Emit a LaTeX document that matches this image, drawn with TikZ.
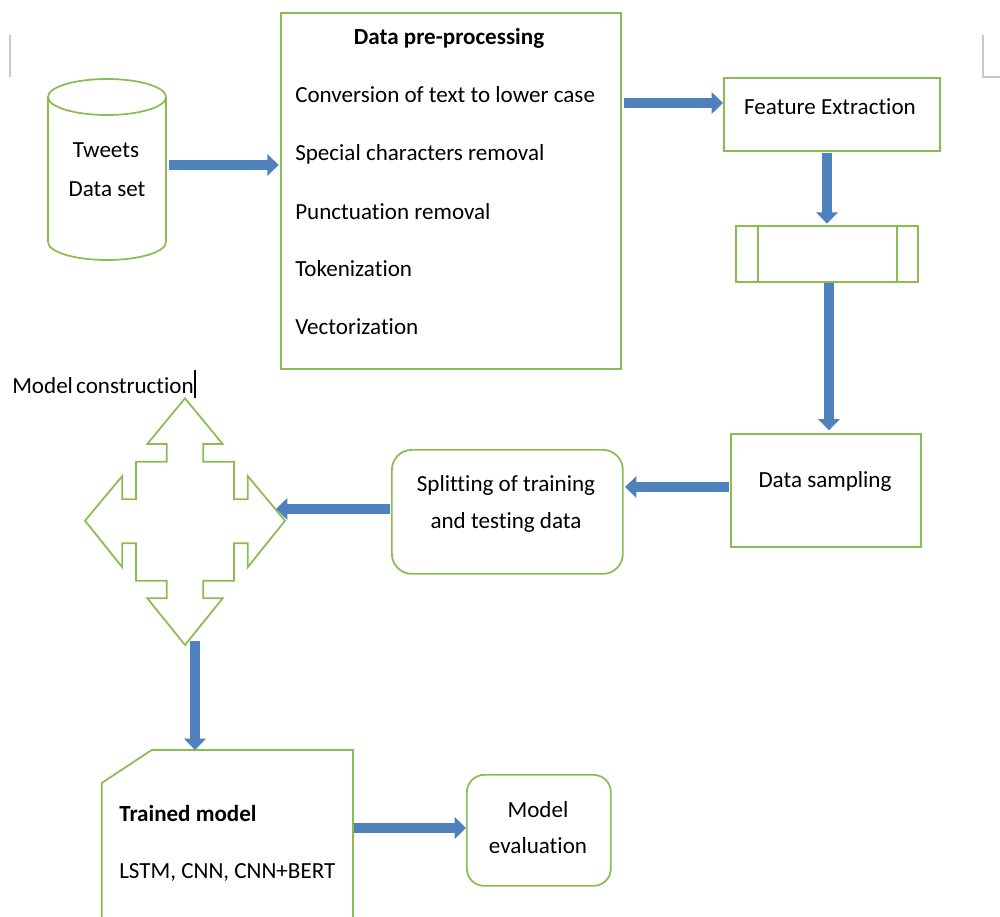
\documentclass[tikz,border=0pt]{standalone}
\usepackage{fontspec}
\setmainfont{Carlito}[Ligatures=NoCommon]
\usetikzlibrary{arrows.meta}
\definecolor{gr}{RGB}{137,189,82}
\definecolor{bl}{RGB}{79,129,189}
\definecolor{mk}{RGB}{200,200,200}
\tikzset{
  gline/.style={draw=gr, line width=1.3pt},
  gbox/.style={gline, fill=white, rectangle, inner sep=0pt, anchor=north west},
  barrow/.style={draw=bl, line width=7.5pt, -{Triangle[length=8.5pt,width=16pt]}},
  txt/.style={inner sep=0pt, anchor=base},
  ltxt/.style={inner sep=0pt, anchor=base west},
}
\begin{document}
\begin{tikzpicture}[x=0.75pt, y=-0.75pt, font=\fontsize{17.3}{28}\selectfont]
\useasboundingbox (0,0) rectangle (1000,917);
% page corner marks
\draw[mk, line width=0.8pt] (10,35) -- (10,77);
\draw[mk, line width=0.8pt] (983,35) -- (983,77) -- (1000,77);

% cylinder
\draw[gline] (48,97) -- (48,242) arc[start angle=180, end angle=0, x radius=59, y radius=18] -- (166,97);
\draw[gline] (107,97) ellipse[x radius=59, y radius=18];
\node[inner sep=0pt, minimum width=88.5pt, minimum height=136pt, anchor=north west] (cyl) at (48,79) {};
\node[txt] (tw1) at (106,157) {Tweets};
\node[txt] (tw2) at (107,196) {Data set};

% data pre-processing
\node[gbox, minimum width=255pt, minimum height=267pt] (pre) at (280,12) {};
\node[txt] (preT) at (449,45) {\bfseries Data pre-processing};
\node[ltxt] (p1) at (295,103) {Conversion of text to lower case};
\node[ltxt] (p2) at (295,161) {Special characters removal};
\node[ltxt] (p3) at (295,219) {Punctuation removal};
\node[ltxt] (p4) at (295,276) {Tokenization};
\node[ltxt] (p5) at (295,334) {Vectorization};

% feature extraction
\node[gbox, minimum width=162pt, minimum height=54.75pt] (feat) at (723,77) {};
\node[txt] (featT) at (830,114) {Feature Extraction};

% predefined process
\node[gbox, minimum width=136.5pt, minimum height=42pt] (proc) at (735,225) {};
\draw[gline] ([xshift=17.25pt]proc.north west) -- ([xshift=17.25pt]proc.south west);
\draw[gline] ([xshift=-16.5pt]proc.north east) -- ([xshift=-16.5pt]proc.south east);

% data sampling
\node[gbox, minimum width=142.5pt, minimum height=84.75pt] (samp) at (730,433) {};
\node[txt] (sampT) at (825,487) {Data sampling};

% splitting
\node[gbox, rounded corners=15pt, minimum width=173.25pt, minimum height=93pt] (split) at (391,449) {};
\node[txt] (sp1) at (506,491) {Splitting of training};
\node[txt] (sp2) at (506,528) {and testing data};

% model construction
\node[ltxt] (mc) at (12,393) {Model\hspace{-1.5pt} construction};
\coordinate (cur1) at (195,370);
\draw[black, line width=2.2pt] (cur1) -- (195,398);

% cross shape
\draw[gline, line join=miter]
  (185,398.3) -- (147.3,444) -- (166.7,444) -- (166.7,461.7) -- (136,461.7) -- (136,499.3)
  -- (122.3,499.3) -- (122.3,476) -- (85,520.7) -- (122.3,567.3) -- (122.3,543.3)
  -- (136,543.3) -- (136,580.7) -- (166.7,580.7) -- (166.7,598.3) -- (147.3,598.3)
  -- (185,645) -- (222.7,598.3) -- (203.3,598.3) -- (203.3,580.7) -- (234,580.7)
  -- (234,543.3) -- (247.7,543.3) -- (247.7,567.3) -- (285,520.7) -- (247.7,476)
  -- (247.7,499.3) -- (234,499.3) -- (234,461.7) -- (203.3,461.7) -- (203.3,444)
  -- (222.7,444) -- cycle;
\node[inner sep=0pt, minimum width=150pt, minimum height=185pt] (cross) at (185,521.7) {};
\coordinate (crossR) at (276,509);
\coordinate (crossB) at (195,641);

% trained model
\draw[gline, line join=miter] (101.7,920) -- (101.7,783) -- (151.7,750) -- (353,750) -- (353,920);
\node[inner sep=0pt, minimum width=188pt, minimum height=125pt, anchor=north west] (trained) at (101.7,750) {};
\node[ltxt] (tm1) at (119,821) {\bfseries Trained model};
\node[ltxt] (tm2) at (119,878) {LSTM, CNN, CNN+BERT};

% model evaluation
\node[gbox, rounded corners=13pt, minimum width=108pt, minimum height=83.25pt] (eval) at (466,774) {};
\node[txt] (ev1) at (538,817) {Model};
\node[txt] (ev2) at (538,853) {evaluation};

% arrows
\draw[barrow] ([xshift=1.5pt]cyl.east |- 0,165) -- ([xshift=-1pt]pre.west |- 0,165);
\draw[barrow] ([xshift=2pt]pre.east |- 0,103) -- (feat.west |- 0,103);
\draw[barrow] ([yshift=-1pt]feat.south -| 827,0) -- ([yshift=1pt]proc.north -| 827,0);
\draw[barrow] (proc.south -| 829,0) -- ([yshift=2pt]samp.north -| 829,0);
\draw[barrow] ([xshift=-1pt]samp.west |- 0,487) -- ([xshift=1pt]split.east |- 0,487);
\draw[barrow] ([xshift=-1pt]split.west |- 0,509) -- (crossR);
\draw[barrow] (crossB) -- (crossB |- trained.north);
\draw[barrow] ([xshift=1pt]trained.east |- 0,828) -- (eval.west |- 0,828);
\end{tikzpicture}
\end{document}
